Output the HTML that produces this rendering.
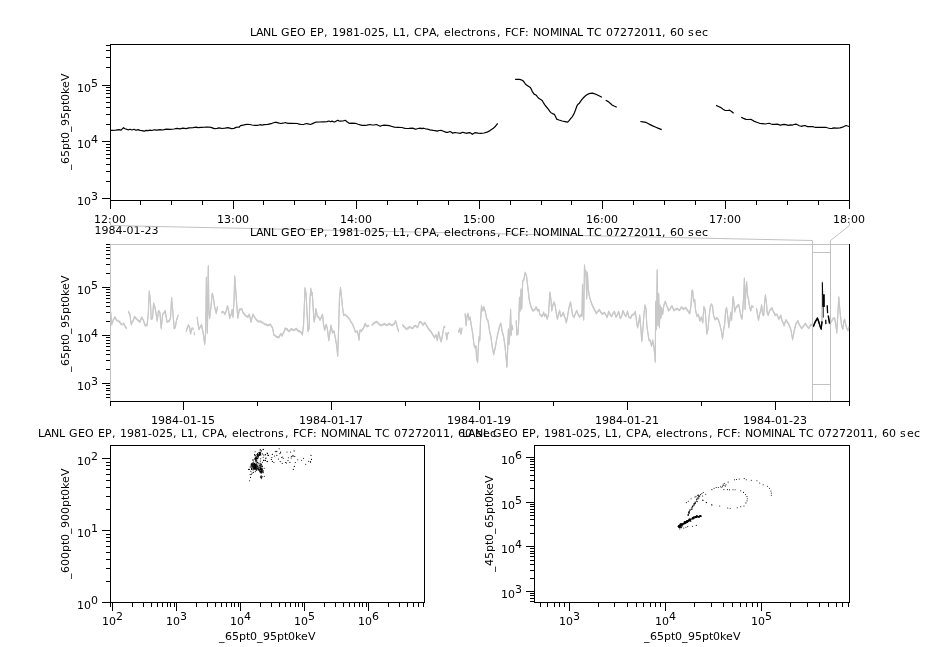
<!DOCTYPE html>
<html><head><meta charset="utf-8"><title>LANL GEO EP</title>
<style>
html,body{margin:0;padding:0;background:#fff;}
svg{display:block;will-change:transform;font-family:'DejaVu Sans', 'Liberation Sans', sans-serif;font-size:11px;fill:#000;}
</style></head><body>
<svg width="926" height="647" viewBox="0 0 926 647" shape-rendering="crispEdges">
<rect width="926" height="647" fill="#fff"/>
<text x="250 256 263 271 277 281 290 297 306 310 317 324 328 332 339 346 353 360 364 371 378 385 389 393 399 406 410 414 422 429 436 440 444 451 454 461 467 471 476 483 490 497 501 505 511 519 525 529 533 541 550 559 562 570 577 583 587 594 602 606 613 620 627 634 641 648 655 662 666 670 677 684 688 695 702" y="36" >LANL GEO EP, 1981-025, L1, CPA, electrons, FCF: NOMINAL TC 07272011, 60 sec</text>
<rect x="102" y="198" width="8" height="1" fill="#000"/>
<text x="77.0" y="204.7">10<tspan dy="-4.6">3</tspan></text>
<rect x="106" y="181" width="4" height="1" fill="#000"/>
<rect x="106" y="171" width="4" height="1" fill="#000"/>
<rect x="106" y="164" width="4" height="1" fill="#000"/>
<rect x="106" y="158" width="4" height="1" fill="#000"/>
<rect x="106" y="154" width="4" height="1" fill="#000"/>
<rect x="106" y="150" width="4" height="1" fill="#000"/>
<rect x="106" y="147" width="4" height="1" fill="#000"/>
<rect x="106" y="144" width="4" height="1" fill="#000"/>
<rect x="102" y="141" width="8" height="1" fill="#000"/>
<text x="77.0" y="147.7">10<tspan dy="-4.6">4</tspan></text>
<rect x="106" y="124" width="4" height="1" fill="#000"/>
<rect x="106" y="114" width="4" height="1" fill="#000"/>
<rect x="106" y="107" width="4" height="1" fill="#000"/>
<rect x="106" y="102" width="4" height="1" fill="#000"/>
<rect x="106" y="97" width="4" height="1" fill="#000"/>
<rect x="106" y="93" width="4" height="1" fill="#000"/>
<rect x="106" y="90" width="4" height="1" fill="#000"/>
<rect x="106" y="87" width="4" height="1" fill="#000"/>
<rect x="102" y="85" width="8" height="1" fill="#000"/>
<text x="77.0" y="91.7">10<tspan dy="-4.6">5</tspan></text>
<rect x="106" y="67" width="4" height="1" fill="#000"/>
<rect x="106" y="57" width="4" height="1" fill="#000"/>
<rect x="106" y="50" width="4" height="1" fill="#000"/>
<rect x="106" y="45" width="4" height="1" fill="#000"/>
<text transform="translate(69,122) rotate(-90)" x="-48 -42 -35 -28 -21 -17 -10 -4 3 10 17 21 28 34 41" y="0">_65pt0_95pt0keV</text>
<rect x="110" y="44" width="740" height="1" fill="#000"/>
<rect x="110" y="200" width="740" height="1" fill="#000"/>
<rect x="110" y="44" width="1" height="157" fill="#000"/>
<rect x="849" y="44" width="1" height="157" fill="#000"/>
<rect x="110" y="201" width="1" height="8" fill="#000"/>
<text x="94 101 108 112 119" y="223" >12:00</text>
<rect x="140" y="201" width="1" height="4" fill="#000"/>
<rect x="171" y="201" width="1" height="4" fill="#000"/>
<rect x="202" y="201" width="1" height="4" fill="#000"/>
<rect x="233" y="201" width="1" height="8" fill="#000"/>
<text x="217 224 231 235 242" y="223" >13:00</text>
<rect x="263" y="201" width="1" height="4" fill="#000"/>
<rect x="294" y="201" width="1" height="4" fill="#000"/>
<rect x="325" y="201" width="1" height="4" fill="#000"/>
<rect x="356" y="201" width="1" height="8" fill="#000"/>
<text x="340 347 354 358 365" y="223" >14:00</text>
<rect x="387" y="201" width="1" height="4" fill="#000"/>
<rect x="417" y="201" width="1" height="4" fill="#000"/>
<rect x="448" y="201" width="1" height="4" fill="#000"/>
<rect x="479" y="201" width="1" height="8" fill="#000"/>
<text x="463 470 477 481 488" y="223" >15:00</text>
<rect x="510" y="201" width="1" height="4" fill="#000"/>
<rect x="541" y="201" width="1" height="4" fill="#000"/>
<rect x="571" y="201" width="1" height="4" fill="#000"/>
<rect x="602" y="201" width="1" height="8" fill="#000"/>
<text x="586 593 600 604 611" y="223" >16:00</text>
<rect x="633" y="201" width="1" height="4" fill="#000"/>
<rect x="664" y="201" width="1" height="4" fill="#000"/>
<rect x="695" y="201" width="1" height="4" fill="#000"/>
<rect x="725" y="201" width="1" height="8" fill="#000"/>
<text x="709 716 723 727 734" y="223" >17:00</text>
<rect x="756" y="201" width="1" height="4" fill="#000"/>
<rect x="787" y="201" width="1" height="4" fill="#000"/>
<rect x="818" y="201" width="1" height="4" fill="#000"/>
<rect x="849" y="201" width="1" height="8" fill="#000"/>
<text x="833 840 847 851 858" y="223" >18:00</text>
<text x="94.6 101.6 108.6 115.6 122.6 126.6 133.6 140.6 144.6 151.6" y="234" >1984-01-23</text>
<g fill="none" stroke="#c2c2c2" stroke-width="1" shape-rendering="geometricPrecision">
<polyline points="110.5,222 110.5,225.5 812.5,240.5 812.5,401"/>
<polyline points="849.5,222 849.5,225.5 830.5,240.5 830.5,401"/>
<line x1="812" y1="252.5" x2="831" y2="252.5"/>
<line x1="812" y1="384.5" x2="831" y2="384.5"/>
</g>
<text x="250 256 263 271 277 281 290 297 306 310 317 324 328 332 339 346 353 360 364 371 378 385 389 393 399 406 410 414 422 429 436 440 444 451 454 461 467 471 476 483 490 497 501 505 511 519 525 529 533 541 550 559 562 570 577 583 587 594 602 606 613 620 627 634 641 648 655 662 666 670 677 684 688 695 702" y="236" >LANL GEO EP, 1981-025, L1, CPA, electrons, FCF: NOMINAL TC 07272011, 60 sec</text>
<rect x="110" y="244" width="740" height="1" fill="#c2c2c2"/>
<rect x="110" y="244" width="1" height="158" fill="#c2c2c2"/>
<rect x="106" y="397" width="4" height="1" fill="#000"/>
<rect x="106" y="394" width="4" height="1" fill="#000"/>
<rect x="106" y="390" width="4" height="1" fill="#000"/>
<rect x="106" y="388" width="4" height="1" fill="#000"/>
<rect x="106" y="385" width="4" height="1" fill="#000"/>
<rect x="102" y="383" width="8" height="1" fill="#000"/>
<text x="77.0" y="389.7">10<tspan dy="-4.6">3</tspan></text>
<rect x="106" y="369" width="4" height="1" fill="#000"/>
<rect x="106" y="360" width="4" height="1" fill="#000"/>
<rect x="106" y="354" width="4" height="1" fill="#000"/>
<rect x="106" y="350" width="4" height="1" fill="#000"/>
<rect x="106" y="346" width="4" height="1" fill="#000"/>
<rect x="106" y="343" width="4" height="1" fill="#000"/>
<rect x="106" y="340" width="4" height="1" fill="#000"/>
<rect x="106" y="337" width="4" height="1" fill="#000"/>
<rect x="102" y="335" width="8" height="1" fill="#000"/>
<text x="77.0" y="341.7">10<tspan dy="-4.6">4</tspan></text>
<rect x="106" y="321" width="4" height="1" fill="#000"/>
<rect x="106" y="312" width="4" height="1" fill="#000"/>
<rect x="106" y="306" width="4" height="1" fill="#000"/>
<rect x="106" y="302" width="4" height="1" fill="#000"/>
<rect x="106" y="298" width="4" height="1" fill="#000"/>
<rect x="106" y="295" width="4" height="1" fill="#000"/>
<rect x="106" y="292" width="4" height="1" fill="#000"/>
<rect x="106" y="289" width="4" height="1" fill="#000"/>
<rect x="102" y="287" width="8" height="1" fill="#000"/>
<text x="77.0" y="293.7">10<tspan dy="-4.6">5</tspan></text>
<rect x="106" y="273" width="4" height="1" fill="#000"/>
<rect x="106" y="264" width="4" height="1" fill="#000"/>
<rect x="106" y="258" width="4" height="1" fill="#000"/>
<rect x="106" y="254" width="4" height="1" fill="#000"/>
<rect x="106" y="250" width="4" height="1" fill="#000"/>
<rect x="106" y="247" width="4" height="1" fill="#000"/>
<rect x="106" y="244" width="4" height="1" fill="#000"/>
<text transform="translate(69,324) rotate(-90)" x="-48 -42 -35 -28 -21 -17 -10 -4 3 10 17 21 28 34 41" y="0">_65pt0_95pt0keV</text>
<rect x="110" y="401" width="740" height="1" fill="#000"/>
<rect x="849" y="244" width="1" height="158" fill="#000"/>
<rect x="110" y="402" width="1" height="4" fill="#000"/>
<rect x="183" y="402" width="1" height="8" fill="#000"/>
<text x="151 158 165 172 179 183 190 197 201 208" y="424" >1984-01-15</text>
<rect x="257" y="402" width="1" height="4" fill="#000"/>
<rect x="331" y="402" width="1" height="8" fill="#000"/>
<text x="299 306 313 320 327 331 338 345 349 356" y="424" >1984-01-17</text>
<rect x="405" y="402" width="1" height="4" fill="#000"/>
<rect x="479" y="402" width="1" height="8" fill="#000"/>
<text x="447 454 461 468 475 479 486 493 497 504" y="424" >1984-01-19</text>
<rect x="553" y="402" width="1" height="4" fill="#000"/>
<rect x="627" y="402" width="1" height="8" fill="#000"/>
<text x="595 602 609 616 623 627 634 641 645 652" y="424" >1984-01-21</text>
<rect x="701" y="402" width="1" height="4" fill="#000"/>
<rect x="775" y="402" width="1" height="8" fill="#000"/>
<text x="743 750 757 764 771 775 782 789 793 800" y="424" >1984-01-23</text>
<rect x="849" y="402" width="1" height="4" fill="#000"/>
<text x="38 44 51 59 65 69 78 85 94 98 105 112 116 120 127 134 141 148 152 159 166 173 177 181 187 194 198 202 210 217 224 228 232 239 242 249 255 259 264 271 278 285 289 293 299 307 313 317 321 329 338 347 350 358 365 371 375 382 390 394 401 408 415 422 429 436 443 450 454 458 465 472 476 483 490" y="437" >LANL GEO EP, 1981-025, L1, CPA, electrons, FCF: NOMINAL TC 07272011, 60 sec</text>
<rect x="110" y="445" width="315" height="1" fill="#000"/>
<rect x="110" y="602" width="315" height="1" fill="#000"/>
<rect x="110" y="445" width="1" height="158" fill="#000"/>
<rect x="424" y="445" width="1" height="158" fill="#000"/>
<rect x="102" y="602" width="8" height="1" fill="#000"/>
<text x="77.0" y="608.7">10<tspan dy="-4.6">0</tspan></text>
<rect x="106" y="581" width="4" height="1" fill="#000"/>
<rect x="106" y="568" width="4" height="1" fill="#000"/>
<rect x="106" y="559" width="4" height="1" fill="#000"/>
<rect x="106" y="552" width="4" height="1" fill="#000"/>
<rect x="106" y="546" width="4" height="1" fill="#000"/>
<rect x="106" y="541" width="4" height="1" fill="#000"/>
<rect x="106" y="537" width="4" height="1" fill="#000"/>
<rect x="106" y="534" width="4" height="1" fill="#000"/>
<rect x="102" y="530" width="8" height="1" fill="#000"/>
<text x="77.0" y="536.7">10<tspan dy="-4.6">1</tspan></text>
<rect x="106" y="509" width="4" height="1" fill="#000"/>
<rect x="106" y="496" width="4" height="1" fill="#000"/>
<rect x="106" y="487" width="4" height="1" fill="#000"/>
<rect x="106" y="480" width="4" height="1" fill="#000"/>
<rect x="106" y="474" width="4" height="1" fill="#000"/>
<rect x="106" y="469" width="4" height="1" fill="#000"/>
<rect x="106" y="465" width="4" height="1" fill="#000"/>
<rect x="106" y="462" width="4" height="1" fill="#000"/>
<rect x="102" y="458" width="8" height="1" fill="#000"/>
<text x="77.0" y="464.7">10<tspan dy="-4.6">2</tspan></text>
<text transform="translate(69,524) rotate(-90)" x="-55 -49 -42 -35 -28 -21 -17 -10 -4 3 10 17 24 28 35 41 48" y="0">_600pt0_900pt0keV</text>
<rect x="110" y="603" width="1" height="4" fill="#000"/>
<rect x="112" y="603" width="1" height="8" fill="#000"/>
<text x="102.0" y="625">10<tspan dy="-4.6">2</tspan></text>
<rect x="132" y="603" width="1" height="4" fill="#000"/>
<rect x="143" y="603" width="1" height="4" fill="#000"/>
<rect x="151" y="603" width="1" height="4" fill="#000"/>
<rect x="157" y="603" width="1" height="4" fill="#000"/>
<rect x="162" y="603" width="1" height="4" fill="#000"/>
<rect x="167" y="603" width="1" height="4" fill="#000"/>
<rect x="170" y="603" width="1" height="4" fill="#000"/>
<rect x="174" y="603" width="1" height="4" fill="#000"/>
<rect x="176" y="603" width="1" height="8" fill="#000"/>
<text x="166.0" y="625">10<tspan dy="-4.6">3</tspan></text>
<rect x="196" y="603" width="1" height="4" fill="#000"/>
<rect x="207" y="603" width="1" height="4" fill="#000"/>
<rect x="215" y="603" width="1" height="4" fill="#000"/>
<rect x="221" y="603" width="1" height="4" fill="#000"/>
<rect x="226" y="603" width="1" height="4" fill="#000"/>
<rect x="231" y="603" width="1" height="4" fill="#000"/>
<rect x="234" y="603" width="1" height="4" fill="#000"/>
<rect x="238" y="603" width="1" height="4" fill="#000"/>
<rect x="240" y="603" width="1" height="8" fill="#000"/>
<text x="230.0" y="625">10<tspan dy="-4.6">4</tspan></text>
<rect x="260" y="603" width="1" height="4" fill="#000"/>
<rect x="271" y="603" width="1" height="4" fill="#000"/>
<rect x="279" y="603" width="1" height="4" fill="#000"/>
<rect x="285" y="603" width="1" height="4" fill="#000"/>
<rect x="290" y="603" width="1" height="4" fill="#000"/>
<rect x="295" y="603" width="1" height="4" fill="#000"/>
<rect x="298" y="603" width="1" height="4" fill="#000"/>
<rect x="302" y="603" width="1" height="4" fill="#000"/>
<rect x="304" y="603" width="1" height="8" fill="#000"/>
<text x="294.0" y="625">10<tspan dy="-4.6">5</tspan></text>
<rect x="324" y="603" width="1" height="4" fill="#000"/>
<rect x="335" y="603" width="1" height="4" fill="#000"/>
<rect x="343" y="603" width="1" height="4" fill="#000"/>
<rect x="349" y="603" width="1" height="4" fill="#000"/>
<rect x="354" y="603" width="1" height="4" fill="#000"/>
<rect x="359" y="603" width="1" height="4" fill="#000"/>
<rect x="362" y="603" width="1" height="4" fill="#000"/>
<rect x="366" y="603" width="1" height="4" fill="#000"/>
<rect x="368" y="603" width="1" height="8" fill="#000"/>
<text x="358.0" y="625">10<tspan dy="-4.6">6</tspan></text>
<rect x="388" y="603" width="1" height="4" fill="#000"/>
<rect x="399" y="603" width="1" height="4" fill="#000"/>
<rect x="407" y="603" width="1" height="4" fill="#000"/>
<rect x="413" y="603" width="1" height="4" fill="#000"/>
<rect x="418" y="603" width="1" height="4" fill="#000"/>
<rect x="423" y="603" width="1" height="4" fill="#000"/>
<text x="219 225 232 239 246 250 257 263 270 277 284 288 295 301 308" y="640" >_65pt0_95pt0keV</text>
<text x="462 468 475 483 489 493 502 509 518 522 529 536 540 544 551 558 565 572 576 583 590 597 601 605 611 618 622 626 634 641 648 652 656 663 666 673 679 683 688 695 702 709 713 717 723 731 737 741 745 753 762 771 774 782 789 795 799 806 814 818 825 832 839 846 853 860 867 874 878 882 889 896 900 907 914" y="437" >LANL GEO EP, 1981-025, L1, CPA, electrons, FCF: NOMINAL TC 07272011, 60 sec</text>
<rect x="534" y="445" width="316" height="1" fill="#000"/>
<rect x="534" y="602" width="316" height="1" fill="#000"/>
<rect x="534" y="445" width="1" height="158" fill="#000"/>
<rect x="849" y="445" width="1" height="158" fill="#000"/>
<rect x="530" y="601" width="4" height="1" fill="#000"/>
<rect x="530" y="598" width="4" height="1" fill="#000"/>
<rect x="530" y="595" width="4" height="1" fill="#000"/>
<rect x="530" y="593" width="4" height="1" fill="#000"/>
<rect x="526" y="591" width="8" height="1" fill="#000"/>
<text x="501.0" y="597.7">10<tspan dy="-4.6">3</tspan></text>
<rect x="530" y="578" width="4" height="1" fill="#000"/>
<rect x="530" y="570" width="4" height="1" fill="#000"/>
<rect x="530" y="564" width="4" height="1" fill="#000"/>
<rect x="530" y="560" width="4" height="1" fill="#000"/>
<rect x="530" y="556" width="4" height="1" fill="#000"/>
<rect x="530" y="553" width="4" height="1" fill="#000"/>
<rect x="530" y="551" width="4" height="1" fill="#000"/>
<rect x="530" y="548" width="4" height="1" fill="#000"/>
<rect x="526" y="546" width="8" height="1" fill="#000"/>
<text x="501.0" y="552.7">10<tspan dy="-4.6">4</tspan></text>
<rect x="530" y="533" width="4" height="1" fill="#000"/>
<rect x="530" y="525" width="4" height="1" fill="#000"/>
<rect x="530" y="519" width="4" height="1" fill="#000"/>
<rect x="530" y="515" width="4" height="1" fill="#000"/>
<rect x="530" y="512" width="4" height="1" fill="#000"/>
<rect x="530" y="509" width="4" height="1" fill="#000"/>
<rect x="530" y="506" width="4" height="1" fill="#000"/>
<rect x="530" y="504" width="4" height="1" fill="#000"/>
<rect x="526" y="502" width="8" height="1" fill="#000"/>
<text x="501.0" y="508.7">10<tspan dy="-4.6">5</tspan></text>
<rect x="530" y="488" width="4" height="1" fill="#000"/>
<rect x="530" y="480" width="4" height="1" fill="#000"/>
<rect x="530" y="475" width="4" height="1" fill="#000"/>
<rect x="530" y="470" width="4" height="1" fill="#000"/>
<rect x="530" y="467" width="4" height="1" fill="#000"/>
<rect x="530" y="464" width="4" height="1" fill="#000"/>
<rect x="530" y="461" width="4" height="1" fill="#000"/>
<rect x="530" y="459" width="4" height="1" fill="#000"/>
<rect x="526" y="457" width="8" height="1" fill="#000"/>
<text x="501.0" y="463.7">10<tspan dy="-4.6">6</tspan></text>
<text transform="translate(493,524) rotate(-90)" x="-48 -42 -35 -28 -21 -17 -10 -4 3 10 17 21 28 34 41" y="0">_45pt0_65pt0keV</text>
<rect x="540" y="603" width="1" height="4" fill="#000"/>
<rect x="547" y="603" width="1" height="4" fill="#000"/>
<rect x="554" y="603" width="1" height="4" fill="#000"/>
<rect x="559" y="603" width="1" height="4" fill="#000"/>
<rect x="564" y="603" width="1" height="4" fill="#000"/>
<rect x="569" y="603" width="1" height="8" fill="#000"/>
<text x="559.0" y="625">10<tspan dy="-4.6">3</tspan></text>
<rect x="598" y="603" width="1" height="4" fill="#000"/>
<rect x="614" y="603" width="1" height="4" fill="#000"/>
<rect x="627" y="603" width="1" height="4" fill="#000"/>
<rect x="636" y="603" width="1" height="4" fill="#000"/>
<rect x="643" y="603" width="1" height="4" fill="#000"/>
<rect x="650" y="603" width="1" height="4" fill="#000"/>
<rect x="655" y="603" width="1" height="4" fill="#000"/>
<rect x="660" y="603" width="1" height="4" fill="#000"/>
<rect x="665" y="603" width="1" height="8" fill="#000"/>
<text x="655.0" y="625">10<tspan dy="-4.6">4</tspan></text>
<rect x="694" y="603" width="1" height="4" fill="#000"/>
<rect x="711" y="603" width="1" height="4" fill="#000"/>
<rect x="723" y="603" width="1" height="4" fill="#000"/>
<rect x="732" y="603" width="1" height="4" fill="#000"/>
<rect x="740" y="603" width="1" height="4" fill="#000"/>
<rect x="746" y="603" width="1" height="4" fill="#000"/>
<rect x="752" y="603" width="1" height="4" fill="#000"/>
<rect x="757" y="603" width="1" height="4" fill="#000"/>
<rect x="761" y="603" width="1" height="8" fill="#000"/>
<text x="751.0" y="625">10<tspan dy="-4.6">5</tspan></text>
<rect x="790" y="603" width="1" height="4" fill="#000"/>
<rect x="807" y="603" width="1" height="4" fill="#000"/>
<rect x="819" y="603" width="1" height="4" fill="#000"/>
<rect x="828" y="603" width="1" height="4" fill="#000"/>
<rect x="836" y="603" width="1" height="4" fill="#000"/>
<rect x="842" y="603" width="1" height="4" fill="#000"/>
<rect x="848" y="603" width="1" height="4" fill="#000"/>
<text x="644 650 657 664 671 675 682 688 695 702 709 713 720 726 733" y="640" >_65pt0_95pt0keV</text>
<g fill="none" stroke="#000" stroke-width="1.2" stroke-linejoin="round" stroke-linecap="butt" shape-rendering="geometricPrecision">
<polyline points="110.5,130.3 116,130.2 119,129.7 121,130.2 122.5,128.6 123.5,127.7 125,128.8 127,129.4 128.7,129.8 130,129.2 132,130 134,129.3 136,130.3 138,129.6 140,130.4 142,130.6 144.3,131.2 146,130.4 148,130.6 150,130.1 152,130.5 154,129.8 157,130.2 160,129.6 163,130 166,129.2 170,129.3 174,129 177,128.4 180,128.8 183,128.2 186,128.6 189,127.9 193,127.6 196,127.2 198,127.6 201,127.3 205,127.2 208,127 211,127.4 214.3,128.6 217,128.3 219,127.8 222,128.5 225,128.2 228,127.7 231.5,128.6 234,128.4 236,127.4 238,127 239,127.3 240.5,125.6 243,125.2 245,124.6 247,124.4 250,124.5 252,125 254.8,125.4 258,125.3 260,124.7 262,125.2 264,124.6 267.8,124.4 270,123.8 272,123.3 275.5,122.2 278,122.8 280.7,123.5 283,123.2 285.3,122.5 287,123.2 288.5,123.4 292,123.4 297.6,123.5 299,124.2 301.5,124.5 304,124.3 306.6,123.5 308,123.8 310.5,124.5 313,123.4 315.7,122.2 319,122 323.5,121.8 327,121.6 329,121 330.5,121.7 332,121.1 333.5,121.8 335.1,121.8 337.7,120.3 339,120.9 340.3,121.2 343,121 345.2,120.3 347,121.8 349.1,123.3 352,123.2 355.5,123.3 358,124.2 362,125.4 365,125.3 367,125.2 369.8,124.5 372,125 374,125 376.3,124.5 378,125.3 380.2,126.3 382,125.5 384,125.2 387,125.4 389.2,125.7 392,126.5 394.4,127.2 398,127.3 402.2,127.5 404,128.2 406,128.5 409,128.4 412.6,128.2 414,128.6 415.8,129.3 418,128.5 420.3,128.2 422,128.6 423.5,128.2 425.5,128.8 428,129.2 430,129.9 433.3,130.4 435,130.6 437.2,131.1 439,130.5 441,130.4 443,131 446.3,132.4 448,132.3 450.1,131.5 451.5,132.3 452.7,133.3 454,132.7 455,132.5 458,133 460.2,133.4 462.8,132.2 464,132.6 466.2,133.3 468,132.8 469.7,132.6 471,133.3 472.3,134.3 474,133.2 474.9,132.7 478,133.2 480.9,133.3 484,133 487,132.2 490,130.6 493,128.6 495.5,126.2 497.7,123.4"/>
<polyline points="515.1,79.4 519.5,79.4 521.5,79.9 523.4,81.1 524.6,82.8 525.5,84.3 528,85.9 530.3,87.4 531.3,89.2 532.2,91.3 534.1,94.1 536.4,95.3 537.5,96.8 538.7,98.3 541.5,99.9 542.5,101 543.7,103.2 544.8,104.9 546.5,107 548.3,109.2 549.6,111.2 550.9,112.7 552.5,113.6 554.4,114.4 555.5,116.6 556.6,119.1 559,120 562.1,121 565,121.6 567.7,122.2 569.3,120.4 570.8,118.4 572.2,116.8 573.4,114.9 574.3,113 575.1,111 576.2,108 577.2,105.3 578.3,104 579.4,103.2 580.7,101.2 582,99.4 583.7,97.5 585.5,95.8 587.2,94.6 588.9,93.7 590.6,93.3 592.4,93.2 594.1,93.6 595.8,94.2 599,95.8 601.9,97.2"/>
<polyline points="605.7,100.3 608.3,101.6 610.2,103.3 612.1,105 614.5,106.3 616.8,107.3"/>
<polyline points="640.3,121.5 643,121.8 645.8,122.3 648,123.5 650.1,124.6 652.7,125.9 655.3,127 658.5,128.4 661.7,129.6"/>
<polyline points="716.1,105.4 718.5,106.5 721,107.6 723,109.2 725.3,110.5 727.5,110.5 729.6,110.2 731.6,111.5 733.6,113.3"/>
<polyline points="741.2,117.2 743.5,118.4 746,119.4 748.5,119.5 751.2,119.4 752.5,120.2 753.8,121.1 756.7,122.2 759.6,123.3 762.5,123.6 765.5,124 767.5,123.5 769.3,123.3 771,124 772.6,124.4 775,124.4 777.1,124.2 778.8,124.6 780.4,125.3 782.3,124.6 784.2,124.4 786.5,124.8 788.8,125.4 790.5,124.9 792.2,125.2 794,124.5 795.9,124.1 797.5,124.8 799.3,125.7 801.1,126.3 803,125.8 805,125.5 806.3,126.1 807.6,126.6 810,126.5 812.8,126.6 814,127 815.3,127.3 820,127.3 825.7,127.3 828,128 830.2,128.5 832,128.3 834.1,127.8 835.8,128.2 837.4,128.2 840,127.8 842.6,127.2 844.4,126.3 846.2,125.5 847.6,126 849,126.3"/>
</g>
<g fill="none" stroke="#c8c8c8" stroke-width="1.1" stroke-linejoin="round" stroke-linecap="round" shape-rendering="geometricPrecision">
<polyline points="110.8,312.0 111.7,324.0 112.5,322.1 113.2,319.5 114.2,317.8 115.1,316.7 116.3,319.4 117.2,320.0 118.2,320.5 119.2,320.9 120.1,322.1 121.0,323.5 121.9,324.1 122.8,323.8 123.8,323.0 125.1,325.9 125.8,327.0 126.6,327.7"/>
<polyline points="110.8,313.0 111.7,325.0 112.5,323.1 113.2,320.5 114.2,318.8 115.1,317.7 116.3,320.4 117.2,321.0 118.2,321.5 119.2,321.9 120.1,323.1 121.0,324.5 121.9,325.1 122.8,324.8 123.8,324.0 125.1,326.9 125.8,328.0 126.6,328.7"/>
<polyline points="128.4,311.1 129.2,312.9 129.9,314.0 131.2,324.0 132.1,321.9 133.0,320.5 133.8,318.6 134.5,316.3 135.3,316.9 136.0,317.9 136.8,318.5 137.7,319.5 138.6,320.3 139.9,321.3 140.9,318.9 141.8,316.8 142.6,318.5 143.3,319.5 144.2,322.2 145.1,325.0 146.1,324.8 147.0,324.9 148.3,313.8 149.2,290.7 150.3,299.0 151.2,318.5 152.5,317.7 153.6,302.7 154.8,306.4 155.9,311.9 157.2,320.3 158.5,310.2 159.2,310.8 159.9,312.0 161.2,327.9 161.9,321.0 162.7,313.8 163.5,313.0 164.3,311.7 165.1,310.3 166.1,316.1 167.0,321.4 167.7,321.3 168.5,320.6 169.2,320.5 170.5,317.7 171.6,297.4 172.9,312.1 174.2,327.9 175.3,326.9 176.6,319.4 177.3,317.1 178.1,314.9"/>
<polyline points="128.4,312.1 129.2,313.9 129.9,315.0 131.2,325.0 132.1,322.9 133.0,321.5 133.8,319.6 134.5,317.3 135.3,317.9 136.0,318.9 136.8,319.5 137.7,320.5 138.6,321.3 139.9,322.3 140.9,319.9 141.8,317.8 142.6,319.5 143.3,320.5 144.2,323.2 145.1,326.0 146.1,325.8 147.0,325.9 148.3,314.8 149.2,291.7 150.3,300.0 151.2,319.5 152.5,318.7 153.6,303.7 154.8,307.4 155.9,312.9 157.2,321.3 158.5,311.2 159.2,311.8 159.9,313.0 161.2,328.9 161.9,322.0 162.7,314.8 163.5,314.0 164.3,312.7 165.1,311.3 166.1,317.1 167.0,322.4 167.7,322.3 168.5,321.6 169.2,321.5 170.5,318.7 171.6,298.4 172.9,313.1 174.2,328.9 175.3,327.9 176.6,320.4 177.3,318.1 178.1,315.9"/>
<polyline points="186.3,330.6 187.3,327.4 188.3,324.6 189.6,326.9 190.6,333.3 191.9,327.8 192.6,327.9 193.3,328.6"/>
<polyline points="186.3,331.6 187.3,328.4 188.3,325.6 189.6,327.9 190.6,334.3 191.9,328.8 192.6,328.9 193.3,329.6"/>
<polyline points="194.3,332.3 194.5,333.9"/>
<polyline points="194.3,333.3 194.5,334.9"/>
<polyline points="197.1,317.0 198.0,323.0 198.9,328.8 199.7,327.6 200.4,326.0 201.7,324.7 202.4,328.9 203.2,332.3 203.9,338.0 204.7,343.7 205.7,329.5 206.4,276.9 206.9,304.5 207.4,332.4 208.3,265.5 208.9,310.2 209.6,317.6 210.8,308.2 212.2,293.0 213.4,297.1 214.5,305.6 215.4,309.4 216.3,312.8 217.4,306.5"/>
<polyline points="197.1,318.0 198.0,324.0 198.9,329.8 199.7,328.6 200.4,327.0 201.7,325.7 202.4,329.9 203.2,333.3 203.9,339.0 204.7,344.7 205.7,330.5 206.4,277.9 206.9,305.5 207.4,333.4 208.3,266.5 208.9,311.2 209.6,318.6 210.8,309.2 212.2,294.0 213.4,298.1 214.5,306.6 215.4,310.4 216.3,313.8 217.4,307.5"/>
<polyline points="221.3,312.0 222.2,311.8 223.2,311.2 224.1,312.5 225.0,313.8 226.3,310.1 227.5,305.5 228.6,310.2 229.7,317.7 230.4,315.6 231.2,314.0 232.1,309.1 233.0,316.8 234.0,301.0 234.7,275.8 235.6,287.9 236.7,303.7 237.8,317.5 238.6,313.4 239.3,309.3 240.1,308.7 240.9,308.9 241.7,308.4 242.6,310.9 243.6,312.9 244.3,313.2 245.0,314.6 245.7,315.3 246.4,315.7 247.2,315.8 247.9,316.6 249.2,313.9 250.1,317.4 251.0,321.4 251.9,317.7 252.9,313.8 253.8,315.4 254.7,316.7 255.4,318.0 256.1,318.9 256.8,319.5 257.5,320.4 258.2,320.7 258.9,320.9 259.6,321.2 260.3,320.8 261.0,321.2 261.8,321.9 262.5,322.0 263.3,322.7 264.0,323.0 264.7,323.8 265.5,323.9 266.2,323.9 267.0,324.8 267.7,324.9 268.4,324.5 269.1,324.5 269.8,324.0 270.5,324.0 271.4,325.8 272.4,327.0 273.1,330.2 273.8,334.4 274.6,334.5 275.3,335.3 276.1,336.2 277.0,336.5 277.9,336.6 278.8,337.1 279.8,335.1 280.7,333.2 282.0,335.3 282.8,333.4 283.5,332.4 284.4,330.3 285.3,327.8 286.2,328.7 287.2,328.6 288.1,330.1 289.1,330.7 289.8,330.0 290.6,329.4 291.3,328.3 292.1,329.0 292.9,329.4 293.7,329.6 294.4,329.2 295.1,329.1 295.8,328.5 296.5,328.2 297.4,329.7 298.3,330.5 299.6,330.6 300.6,331.8 301.5,332.3 302.4,334.2 303.5,324.9 304.3,306.4 305.0,287.5 306.1,293.4 307.1,313.9 308.0,330.7 309.1,327.7 309.8,300.9 310.8,288.0 311.7,294.4 312.3,292.4 313.2,308.3 314.1,321.3 315.0,317.5 315.8,308.3 316.6,311.8 317.3,315.8 318.7,316.7 320.0,319.4 321.3,316.8 322.5,314.0 323.4,323.1 324.7,329.6 325.4,326.7 326.2,324.1 327.3,327.8 328.1,334.1 328.8,339.9 329.9,332.3 331.0,324.9 331.8,328.7 332.5,332.3 333.2,331.1 334.0,330.7 335.4,337.9 336.7,345.5 337.7,355.6 338.6,328.8 339.5,297.3 340.5,287.4 341.4,295.2 342.5,306.5 343.6,314.8 344.4,314.3 345.1,314.0 346.0,315.1 346.9,315.7 347.7,316.6 348.4,317.2 349.2,318.5 350.0,319.4 350.8,321.1 351.6,322.2 352.5,323.7 353.4,325.9 354.4,328.3 355.3,331.4 356.2,331.2 357.2,330.6 358.1,333.4 359.0,339.5 359.9,329.7 360.6,329.8 361.4,330.7 362.4,328.8 363.3,327.8 364.2,325.8 365.1,323.2 366.1,324.9 367.0,325.9 367.9,325.6 368.8,325.1"/>
<polyline points="221.3,313.0 222.2,312.8 223.2,312.2 224.1,313.5 225.0,314.8 226.3,311.1 227.5,306.5 228.6,311.2 229.7,318.7 230.4,316.6 231.2,315.0 232.1,310.1 233.0,317.8 234.0,302.0 234.7,276.8 235.6,288.9 236.7,304.7 237.8,318.5 238.6,314.4 239.3,310.3 240.1,309.7 240.9,309.9 241.7,309.4 242.6,311.9 243.6,313.9 244.3,314.2 245.0,315.6 245.7,316.3 246.4,316.7 247.2,316.8 247.9,317.6 249.2,314.9 250.1,318.4 251.0,322.4 251.9,318.7 252.9,314.8 253.8,316.4 254.7,317.7 255.4,319.0 256.1,319.9 256.8,320.5 257.5,321.4 258.2,321.7 258.9,321.9 259.6,322.2 260.3,321.8 261.0,322.2 261.8,322.9 262.5,323.0 263.3,323.7 264.0,324.0 264.7,324.8 265.5,324.9 266.2,324.9 267.0,325.8 267.7,325.9 268.4,325.5 269.1,325.5 269.8,325.0 270.5,325.0 271.4,326.8 272.4,328.0 273.1,331.2 273.8,335.4 274.6,335.5 275.3,336.3 276.1,337.2 277.0,337.5 277.9,337.6 278.8,338.1 279.8,336.1 280.7,334.2 282.0,336.3 282.8,334.4 283.5,333.4 284.4,331.3 285.3,328.8 286.2,329.7 287.2,329.6 288.1,331.1 289.1,331.7 289.8,331.0 290.6,330.4 291.3,329.3 292.1,330.0 292.9,330.4 293.7,330.6 294.4,330.2 295.1,330.1 295.8,329.5 296.5,329.2 297.4,330.7 298.3,331.5 299.6,331.6 300.6,332.8 301.5,333.3 302.4,335.2 303.5,325.9 304.3,307.4 305.0,288.5 306.1,294.4 307.1,314.9 308.0,331.7 309.1,328.7 309.8,301.9 310.8,289.0 311.7,295.4 312.3,293.4 313.2,309.3 314.1,322.3 315.0,318.5 315.8,309.3 316.6,312.8 317.3,316.8 318.7,317.7 320.0,320.4 321.3,317.8 322.5,315.0 323.4,324.1 324.7,330.6 325.4,327.7 326.2,325.1 327.3,328.8 328.1,335.1 328.8,340.9 329.9,333.3 331.0,325.9 331.8,329.7 332.5,333.3 333.2,332.1 334.0,331.7 335.4,338.9 336.7,346.5 337.7,356.6 338.6,329.8 339.5,298.3 340.5,288.4 341.4,296.2 342.5,307.5 343.6,315.8 344.4,315.3 345.1,315.0 346.0,316.1 346.9,316.7 347.7,317.6 348.4,318.2 349.2,319.5 350.0,320.4 350.8,322.1 351.6,323.2 352.5,324.7 353.4,326.9 354.4,329.3 355.3,332.4 356.2,332.2 357.2,331.6 358.1,334.4 359.0,340.5 359.9,330.7 360.6,330.8 361.4,331.7 362.4,329.8 363.3,328.8 364.2,326.8 365.1,324.2 366.1,325.9 367.0,326.9 367.9,326.6 368.8,326.1"/>
<polyline points="372.0,324.6 372.9,323.5 373.8,322.7 374.5,322.6 375.2,321.7 375.9,321.7 376.6,321.3 377.5,321.8 378.5,323.2 379.4,324.0 380.4,324.5 381.3,324.9 382.0,324.3 382.7,324.2 383.4,324.2 384.1,323.4 385.0,323.6 385.9,324.3 386.8,324.7 387.5,324.3 388.2,323.8 388.9,323.9 389.6,323.0 390.5,324.1 391.3,324.2 392.2,324.9 393.1,323.9 394.1,323.4 394.9,322.2 395.6,320.3 396.4,323.2 397.1,325.9 398.5,330.6"/>
<polyline points="372.0,325.6 372.9,324.5 373.8,323.7 374.5,323.6 375.2,322.7 375.9,322.7 376.6,322.3 377.5,322.8 378.5,324.2 379.4,325.0 380.4,325.5 381.3,325.9 382.0,325.3 382.7,325.2 383.4,325.2 384.1,324.4 385.0,324.6 385.9,325.3 386.8,325.7 387.5,325.3 388.2,324.8 388.9,324.9 389.6,324.0 390.5,325.1 391.3,325.2 392.2,325.9 393.1,324.9 394.1,324.4 394.9,323.2 395.6,321.3 396.4,324.2 397.1,326.9 398.5,331.6"/>
<polyline points="402.6,324.6 403.3,325.1 404.1,326.5 404.8,326.8 405.8,328.0 406.7,328.6 407.4,327.9 408.1,328.0 408.8,326.8 409.5,326.5 410.2,326.8 410.9,327.1 411.6,327.5 412.3,327.7 413.2,327.3 414.1,325.8 415.0,325.3 415.8,325.5 416.7,326.2 417.5,326.9 418.2,325.4 419.0,323.1 419.7,321.2 420.6,321.5 421.5,322.3 422.2,323.0 423.0,324.6 423.9,323.3 424.9,322.2 425.6,323.3 426.4,324.8 427.1,325.9 428.0,327.5 429.0,329.1 429.9,330.2 430.7,330.9 431.5,331.9 432.3,333.4 433.0,334.6 433.8,335.6 434.5,337.2 435.2,335.8 436.0,334.4 437.3,339.9 438.6,331.4 439.7,336.1 440.4,339.0 441.2,341.2 442.5,334.4 443.8,326.8 444.9,326.0"/>
<polyline points="402.6,325.6 403.3,326.1 404.1,327.5 404.8,327.8 405.8,329.0 406.7,329.6 407.4,328.9 408.1,329.0 408.8,327.8 409.5,327.5 410.2,327.8 410.9,328.1 411.6,328.5 412.3,328.7 413.2,328.3 414.1,326.8 415.0,326.3 415.8,326.5 416.7,327.2 417.5,327.9 418.2,326.4 419.0,324.1 419.7,322.2 420.6,322.5 421.5,323.3 422.2,324.0 423.0,325.6 423.9,324.3 424.9,323.2 425.6,324.3 426.4,325.8 427.1,326.9 428.0,328.5 429.0,330.1 429.9,331.2 430.7,331.9 431.5,332.9 432.3,334.4 433.0,335.6 433.8,336.6 434.5,338.2 435.2,336.8 436.0,335.4 437.3,340.9 438.6,332.4 439.7,337.1 440.4,340.0 441.2,342.2 442.5,335.4 443.8,327.8 444.9,327.0"/>
<polyline points="446.0,332.4 446.8,338.9 447.5,333.3 448.6,332.3"/>
<polyline points="446.0,333.4 446.8,339.9 447.5,334.3 448.6,333.3"/>
<polyline points="458.6,331.5 459.8,327.8 460.9,333.3 462.0,327.8"/>
<polyline points="458.6,332.5 459.8,328.8 460.9,334.3 462.0,328.8"/>
<polyline points="465.1,313.5 466.1,325.0 467.0,315.7 467.9,313.0 469.0,319.4 470.1,316.7 471.3,325.0 472.6,332.3 473.9,343.6 475.0,347.3 475.9,345.5 476.6,358.3 477.6,361.6 478.3,347.2 479.1,336.2 479.8,339.9 480.5,321.2 481.5,305.6 482.8,310.3 483.9,306.4 485.0,310.2 485.8,313.6 486.5,317.5 487.2,319.0 488.0,320.3 488.8,325.2 489.5,330.5 490.9,336.0 491.6,341.7 492.4,347.3 493.7,353.9 494.4,350.6 495.2,347.3 496.5,339.8 497.2,336.2 498.0,332.4 498.8,329.0 499.5,326.0 500.8,322.9 502.1,330.7 502.9,333.5 503.6,336.1 505.0,345.3 506.2,358.3 506.9,366.6 507.6,351.1 508.4,328.7 509.1,343.7 509.9,332.4 510.6,309.3 511.2,334.4 511.9,324.9 512.8,328.6"/>
<polyline points="465.1,314.5 466.1,326.0 467.0,316.7 467.9,314.0 469.0,320.4 470.1,317.7 471.3,326.0 472.6,333.3 473.9,344.6 475.0,348.3 475.9,346.5 476.6,359.3 477.6,362.6 478.3,348.2 479.1,337.2 479.8,340.9 480.5,322.2 481.5,306.6 482.8,311.3 483.9,307.4 485.0,311.2 485.8,314.6 486.5,318.5 487.2,320.0 488.0,321.3 488.8,326.2 489.5,331.5 490.9,337.0 491.6,342.7 492.4,348.3 493.7,354.9 494.4,351.6 495.2,348.3 496.5,340.8 497.2,337.2 498.0,333.4 498.8,330.0 499.5,327.0 500.8,323.9 502.1,331.7 502.9,334.5 503.6,337.1 505.0,346.3 506.2,359.3 506.9,367.6 507.6,352.1 508.4,329.7 509.1,344.7 509.9,333.4 510.6,310.3 511.2,335.4 511.9,325.9 512.8,329.6"/>
<polyline points="516.2,320.4 516.9,334.3 518.0,333.3 518.8,319.4 519.5,297.1 520.3,310.1 521.0,288.8 521.7,308.2 522.7,280.6 524.0,278.7 525.1,272.1 525.9,274.0 526.6,275.8 527.7,285.9 528.5,292.4 529.2,298.9 530.1,303.1 531.0,306.3 532.0,308.6 532.9,310.1 533.8,309.9 534.7,309.2 535.5,307.7 536.2,306.5 537.5,310.1 538.8,309.1 539.5,312.4 540.3,314.8 541.2,314.9 542.1,315.8 542.9,314.3 543.6,311.9 544.7,315.7 545.9,313.8 547.2,318.4 548.5,313.9 549.2,302.6 549.9,291.7 550.9,298.9 551.8,310.1 552.9,304.7 554.0,301.8 555.1,304.6 556.2,312.0 557.4,318.5 558.5,313.9 559.6,310.1 560.7,315.8 562.0,314.9 563.3,312.1 564.4,315.7 565.5,318.5 566.3,322.2 567.4,316.8 568.5,310.2 569.6,304.5 570.5,301.7 571.5,307.4 572.6,314.8 573.4,316.0 574.1,316.7 575.5,312.8 576.8,310.3 578.1,313.9 578.9,315.3 579.6,316.6 580.4,315.2 581.1,313.9 582.0,315.8 582.5,284.1 583.1,302.7 583.7,319.3 584.5,264.8 585.2,274.8 585.9,270.2 586.7,298.1 587.4,272.1 588.2,287.8 589.3,295.3 590.0,297.8 590.8,300.8 591.7,303.2 592.6,305.6 593.5,307.3 594.5,309.3 595.4,310.8 596.3,313.0 597.0,311.9 597.8,311.0 598.5,310.4 599.3,309.3 600.0,310.2 600.8,311.9 601.7,313.0 602.6,313.5 603.5,312.7 604.5,312.3 605.2,313.2 606.0,314.8 607.1,316.8 607.9,314.3 608.6,311.1 609.4,312.1 610.1,313.9 611.5,315.8 612.2,314.6 613.0,312.9 613.8,311.8 614.5,311.1 615.2,313.9 616.0,316.7 616.8,315.1 617.5,314.0 618.6,311.2 619.4,314.0 620.1,317.5 620.9,317.0 621.6,315.6 623.0,310.3 623.8,312.1 624.5,314.0 625.2,315.0 626.0,315.6 626.8,313.2 627.5,311.0 628.2,314.1 629.0,316.8 629.8,316.8 630.5,317.7 631.9,314.8 632.8,314.1 633.8,313.9 634.5,312.9 635.3,311.1 636.4,319.4 637.5,327.0 638.6,323.2 639.7,314.9 640.9,328.7 641.8,340.8 642.7,330.7 643.8,315.8 644.9,304.6 646.0,308.3 646.8,325.0 647.9,332.5 649.0,339.8 649.8,339.9 650.5,340.9 651.6,345.5 652.7,339.9 653.8,345.5 654.6,352.9 655.3,361.2 655.7,301.0 656.4,328.7 657.2,269.2 657.9,325.0 658.7,293.4 659.4,327.0 660.1,304.7 660.9,317.6 661.6,307.4 662.6,313.8 663.9,304.6 665.3,301.0 666.0,303.1 666.8,305.4 667.8,307.8 668.7,310.2 669.5,309.4 670.2,308.2 671.1,306.5 672.0,305.4 673.0,307.8 673.9,309.9 674.8,309.4 675.7,308.8 676.5,308.4 677.2,308.2 678.0,308.8 678.7,309.2 679.5,309.7 680.4,308.5 681.3,306.8 682.0,307.2 682.8,307.9 683.5,308.8 684.3,307.8 685.0,307.7 685.8,307.3 686.7,308.5 687.6,310.2 688.3,310.8 689.1,312.4 689.8,312.9 691.0,304.7 691.9,290.6 692.6,289.8 693.6,300.9 694.7,299.1 695.6,310.1 696.9,315.7 697.6,315.1 698.4,314.0 699.1,316.9 699.9,320.4 701.3,316.8 702.0,319.4 702.8,322.2 703.9,306.4 705.1,309.3 706.0,321.3 706.9,333.3 708.0,328.7 709.1,315.8 710.3,306.4 711.4,303.7 712.5,305.5 713.6,315.6 714.4,317.1 715.1,319.0 716.0,318.4 716.9,317.5 717.6,318.1 718.4,319.5 719.1,321.6 719.9,324.2 720.6,327.4 721.4,330.6 722.5,338.1 723.6,329.7 724.7,323.1 725.6,310.1 726.6,307.4 727.7,315.8 728.8,326.9 729.9,319.5 730.7,312.0 731.6,319.4 732.3,308.2 733.1,296.2 734.0,302.7 734.7,311.1 735.9,307.4 737.3,305.6 738.0,304.8 738.8,304.5 739.9,310.1 741.0,315.8 742.0,318.5 742.9,308.2 743.7,295.4 744.4,277.8 745.1,308.4 745.9,289.8 746.6,281.5 747.5,294.3 748.5,298.9 749.6,306.5 750.7,310.3 751.8,305.4 752.5,306.3 753.3,306.3"/>
<polyline points="516.2,321.4 516.9,335.3 518.0,334.3 518.8,320.4 519.5,298.1 520.3,311.1 521.0,289.8 521.7,309.2 522.7,281.6 524.0,279.7 525.1,273.1 525.9,275.0 526.6,276.8 527.7,286.9 528.5,293.4 529.2,299.9 530.1,304.1 531.0,307.3 532.0,309.6 532.9,311.1 533.8,310.9 534.7,310.2 535.5,308.7 536.2,307.5 537.5,311.1 538.8,310.1 539.5,313.4 540.3,315.8 541.2,315.9 542.1,316.8 542.9,315.3 543.6,312.9 544.7,316.7 545.9,314.8 547.2,319.4 548.5,314.9 549.2,303.6 549.9,292.7 550.9,299.9 551.8,311.1 552.9,305.7 554.0,302.8 555.1,305.6 556.2,313.0 557.4,319.5 558.5,314.9 559.6,311.1 560.7,316.8 562.0,315.9 563.3,313.1 564.4,316.7 565.5,319.5 566.3,323.2 567.4,317.8 568.5,311.2 569.6,305.5 570.5,302.7 571.5,308.4 572.6,315.8 573.4,317.0 574.1,317.7 575.5,313.8 576.8,311.3 578.1,314.9 578.9,316.3 579.6,317.6 580.4,316.2 581.1,314.9 582.0,316.8 582.5,285.1 583.1,303.7 583.7,320.3 584.5,265.8 585.2,275.8 585.9,271.2 586.7,299.1 587.4,273.1 588.2,288.8 589.3,296.3 590.0,298.8 590.8,301.8 591.7,304.2 592.6,306.6 593.5,308.3 594.5,310.3 595.4,311.8 596.3,314.0 597.0,312.9 597.8,312.0 598.5,311.4 599.3,310.3 600.0,311.2 600.8,312.9 601.7,314.0 602.6,314.5 603.5,313.7 604.5,313.3 605.2,314.2 606.0,315.8 607.1,317.8 607.9,315.3 608.6,312.1 609.4,313.1 610.1,314.9 611.5,316.8 612.2,315.6 613.0,313.9 613.8,312.8 614.5,312.1 615.2,314.9 616.0,317.7 616.8,316.1 617.5,315.0 618.6,312.2 619.4,315.0 620.1,318.5 620.9,318.0 621.6,316.6 623.0,311.3 623.8,313.1 624.5,315.0 625.2,316.0 626.0,316.6 626.8,314.2 627.5,312.0 628.2,315.1 629.0,317.8 629.8,317.8 630.5,318.7 631.9,315.8 632.8,315.1 633.8,314.9 634.5,313.9 635.3,312.1 636.4,320.4 637.5,328.0 638.6,324.2 639.7,315.9 640.9,329.7 641.8,341.8 642.7,331.7 643.8,316.8 644.9,305.6 646.0,309.3 646.8,326.0 647.9,333.5 649.0,340.8 649.8,340.9 650.5,341.9 651.6,346.5 652.7,340.9 653.8,346.5 654.6,353.9 655.3,362.2 655.7,302.0 656.4,329.7 657.2,270.2 657.9,326.0 658.7,294.4 659.4,328.0 660.1,305.7 660.9,318.6 661.6,308.4 662.6,314.8 663.9,305.6 665.3,302.0 666.0,304.1 666.8,306.4 667.8,308.8 668.7,311.2 669.5,310.4 670.2,309.2 671.1,307.5 672.0,306.4 673.0,308.8 673.9,310.9 674.8,310.4 675.7,309.8 676.5,309.4 677.2,309.2 678.0,309.8 678.7,310.2 679.5,310.7 680.4,309.5 681.3,307.8 682.0,308.2 682.8,308.9 683.5,309.8 684.3,308.8 685.0,308.7 685.8,308.3 686.7,309.5 687.6,311.2 688.3,311.8 689.1,313.4 689.8,313.9 691.0,305.7 691.9,291.6 692.6,290.8 693.6,301.9 694.7,300.1 695.6,311.1 696.9,316.7 697.6,316.1 698.4,315.0 699.1,317.9 699.9,321.4 701.3,317.8 702.0,320.4 702.8,323.2 703.9,307.4 705.1,310.3 706.0,322.3 706.9,334.3 708.0,329.7 709.1,316.8 710.3,307.4 711.4,304.7 712.5,306.5 713.6,316.6 714.4,318.1 715.1,320.0 716.0,319.4 716.9,318.5 717.6,319.1 718.4,320.5 719.1,322.6 719.9,325.2 720.6,328.4 721.4,331.6 722.5,339.1 723.6,330.7 724.7,324.1 725.6,311.1 726.6,308.4 727.7,316.8 728.8,327.9 729.9,320.5 730.7,313.0 731.6,320.4 732.3,309.2 733.1,297.2 734.0,303.7 734.7,312.1 735.9,308.4 737.3,306.6 738.0,305.8 738.8,305.5 739.9,311.1 741.0,316.8 742.0,319.5 742.9,309.2 743.7,296.4 744.4,278.8 745.1,309.4 745.9,290.8 746.6,282.5 747.5,295.3 748.5,299.9 749.6,307.5 750.7,311.3 751.8,306.4 752.5,307.3 753.3,307.3"/>
<polyline points="756.6,308.3 757.6,314.7 758.5,319.5 759.6,313.9 760.7,310.3 761.6,304.5 762.6,313.8 763.7,314.7 764.6,302.6 765.4,294.5 766.3,300.8 767.2,312.0 768.3,314.7 769.6,310.1 770.7,309.0 771.9,307.5 773.3,311.1 774.2,312.5 775.2,314.7 776.2,314.0 777.1,314.0 778.0,316.5 778.9,318.6 779.8,316.9 780.8,314.9 781.5,318.0 782.2,320.5 783.2,322.5 784.1,325.1 785.0,322.2 786.0,319.5 786.9,320.9 787.8,322.2 788.8,323.9 789.7,325.9 790.5,328.1 791.2,330.5 792.6,339.0 793.4,335.0 794.1,330.7 795.0,327.0 796.0,323.1 796.9,322.0 797.8,320.3 798.8,322.9 799.7,325.0 800.6,326.1 801.5,327.7 802.5,326.9 803.4,325.8 804.3,324.5 805.3,323.1 806.2,324.4 807.1,325.8 808.0,326.8 809.0,327.7 809.9,325.7 810.8,324.0 811.5,324.4 812.3,324.9 813.4,325.8 814.3,324.0 815.2,321.4 815.9,320.4 816.7,319.3 817.4,317.6 818.8,321.3 820.1,325.9 821.2,328.6 822.0,320.4 822.2,281.8 822.8,294.4 823.6,305.6 824.4,299.6"/>
<polyline points="756.6,309.3 757.6,315.7 758.5,320.5 759.6,314.9 760.7,311.3 761.6,305.5 762.6,314.8 763.7,315.7 764.6,303.6 765.4,295.5 766.3,301.8 767.2,313.0 768.3,315.7 769.6,311.1 770.7,310.0 771.9,308.5 773.3,312.1 774.2,313.5 775.2,315.7 776.2,315.0 777.1,315.0 778.0,317.5 778.9,319.6 779.8,317.9 780.8,315.9 781.5,319.0 782.2,321.5 783.2,323.5 784.1,326.1 785.0,323.2 786.0,320.5 786.9,321.9 787.8,323.2 788.8,324.9 789.7,326.9 790.5,329.1 791.2,331.5 792.6,340.0 793.4,336.0 794.1,331.7 795.0,328.0 796.0,324.1 796.9,323.0 797.8,321.3 798.8,323.9 799.7,326.0 800.6,327.1 801.5,328.7 802.5,327.9 803.4,326.8 804.3,325.5 805.3,324.1 806.2,325.4 807.1,326.8 808.0,327.8 809.0,328.7 809.9,326.7 810.8,325.0 811.5,325.4 812.3,325.9 813.4,326.8 814.3,325.0 815.2,322.4 815.9,321.4 816.7,320.3 817.4,318.6 818.8,322.3 820.1,326.9 821.2,329.6 822.0,321.4 822.2,282.8 822.8,295.4 823.6,306.6 824.4,300.6"/>
<polyline points="828.6,317.5 829.6,323.0 830.9,321.5 831.6,320.5 832.3,319.7 833.0,318.1 833.9,317.7 834.7,317.8 835.8,323.6 836.8,332.2 837.9,312.8 838.8,296.6 839.5,305.3 840.4,314.9 841.7,325.7 842.8,328.6 843.9,320.4 844.7,319.2 845.8,324.8 846.9,327.9 848.0,330.0 848.7,326.9"/>
<polyline points="828.6,318.5 829.6,324.0 830.9,322.5 831.6,321.5 832.3,320.7 833.0,319.1 833.9,318.7 834.7,318.8 835.8,324.6 836.8,333.2 837.9,313.8 838.8,297.6 839.5,306.3 840.4,315.9 841.7,326.7 842.8,329.6 843.9,321.4 844.7,320.2 845.8,325.8 846.9,328.9 848.0,331.0 848.7,327.9"/>
</g>
<g fill="none" stroke="#000" stroke-linejoin="round" stroke-linecap="butt" shape-rendering="geometricPrecision">
<polyline stroke-width="1.1" points="813.4,325.9 815.2,321.5 817.4,317.8 818.8,321.5 820.1,325.9 821.2,328.6 822.0,321.1"/>
<polyline stroke-width="1.1" points="813.4,326.7 815.2,322.3 817.4,318.6 818.8,322.3 820.1,326.7 821.2,329.4 822.0,321.9"/>
<polyline stroke-width="1.0" points="822.4,282.4 822.6,295.0"/>
<polyline stroke-width="2.6" points="823.5,294.3 823.5,307.0"/>
<polyline stroke-width="0.8" points="823.3,307.0 823.3,317.6"/>
<polyline stroke-width="1.3" points="825.7,319.8 825.9,324.1"/>
<polyline stroke-width="1.3" points="827.2,305.2 827.6,313.3"/>
<polyline stroke-width="1.5" points="828.2,315.5 829.6,323.6"/>
</g>
<g fill="#000" shape-rendering="geometricPrecision">
<circle cx="263.2" cy="449.4" r="0.56"/>
<circle cx="260.5" cy="449.7" r="0.56"/>
<circle cx="279.2" cy="448.7" r="0.56"/>
<circle cx="276.8" cy="451.4" r="0.56"/>
<circle cx="275.3" cy="451.2" r="0.56"/>
<circle cx="280.7" cy="452.1" r="0.56"/>
<circle cx="279.9" cy="453.6" r="0.56"/>
<circle cx="287.0" cy="452.0" r="0.56"/>
<circle cx="290.6" cy="452.1" r="0.56"/>
<circle cx="294.1" cy="450.9" r="0.56"/>
<circle cx="272.4" cy="454.4" r="0.56"/>
<circle cx="274.4" cy="456.0" r="0.56"/>
<circle cx="276.8" cy="455.4" r="0.56"/>
<circle cx="271.9" cy="457.5" r="0.56"/>
<circle cx="271.4" cy="459.4" r="0.56"/>
<circle cx="272.4" cy="461.4" r="0.56"/>
<circle cx="273.9" cy="462.5" r="0.56"/>
<circle cx="278.4" cy="459.1" r="0.56"/>
<circle cx="282.3" cy="457.0" r="0.56"/>
<circle cx="283.3" cy="458.3" r="0.56"/>
<circle cx="281.6" cy="457.5" r="0.56"/>
<circle cx="288.4" cy="457.8" r="0.56"/>
<circle cx="291.4" cy="456.5" r="0.56"/>
<circle cx="293.0" cy="455.5" r="0.56"/>
<circle cx="294.8" cy="456.5" r="0.56"/>
<circle cx="291.2" cy="458.0" r="0.56"/>
<circle cx="288.0" cy="460.6" r="0.56"/>
<circle cx="286.5" cy="463.0" r="0.56"/>
<circle cx="285.5" cy="462.5" r="0.56"/>
<circle cx="282.3" cy="463.5" r="0.56"/>
<circle cx="280.2" cy="461.6" r="0.56"/>
<circle cx="289.9" cy="462.4" r="0.56"/>
<circle cx="295.3" cy="462.5" r="0.56"/>
<circle cx="297.7" cy="459.7" r="0.56"/>
<circle cx="301.6" cy="460.2" r="0.56"/>
<circle cx="303.5" cy="458.3" r="0.56"/>
<circle cx="305.7" cy="464.3" r="0.56"/>
<circle cx="308.6" cy="461.2" r="0.56"/>
<circle cx="310.6" cy="462.2" r="0.56"/>
<circle cx="311.5" cy="459.4" r="0.56"/>
<circle cx="311.0" cy="455.4" r="0.56"/>
<circle cx="294.3" cy="466.4" r="0.56"/>
<circle cx="293.3" cy="469.4" r="0.56"/>
<circle cx="267.1" cy="461.4" r="0.56"/>
<circle cx="267.6" cy="453.6" r="0.56"/>
<circle cx="268.0" cy="455.4" r="0.56"/>
<circle cx="266.1" cy="458.0" r="0.56"/>
<circle cx="263.7" cy="460.2" r="0.56"/>
<circle cx="265.1" cy="460.4" r="0.56"/>
<circle cx="265.6" cy="454.6" r="0.56"/>
<circle cx="267.1" cy="453.1" r="0.56"/>
<circle cx="276.2" cy="451.7" r="0.56"/>
<circle cx="280.5" cy="452.8" r="0.56"/>
<circle cx="292.3" cy="456.0" r="0.56"/>
<circle cx="293.9" cy="456.3" r="0.56"/>
<circle cx="310.3" cy="461.6" r="0.56"/>
<circle cx="255.1" cy="451.7" r="0.56"/>
<circle cx="254.5" cy="454.5" r="0.56"/>
<circle cx="253.0" cy="459.5" r="0.56"/>
<circle cx="260.1" cy="449.9" r="0.56"/>
<circle cx="263.2" cy="449.6" r="0.56"/>
<circle cx="262.6" cy="453.9" r="0.56"/>
<circle cx="263.8" cy="455.1" r="0.56"/>
<circle cx="265.3" cy="454.8" r="0.56"/>
<circle cx="267.5" cy="453.6" r="0.56"/>
<circle cx="268.4" cy="455.4" r="0.56"/>
<circle cx="263.2" cy="457.3" r="0.56"/>
<circle cx="265.6" cy="458.2" r="0.56"/>
<circle cx="260.7" cy="458.8" r="0.56"/>
<circle cx="263.5" cy="460.4" r="0.56"/>
<circle cx="265.3" cy="460.4" r="0.56"/>
<circle cx="267.5" cy="461.6" r="0.56"/>
<circle cx="256.7" cy="460.4" r="0.56"/>
<circle cx="256.7" cy="461.6" r="0.56"/>
<circle cx="256.8" cy="462.9" r="0.56"/>
<circle cx="257.9" cy="462.6" r="0.56"/>
<circle cx="250.2" cy="466.9" r="0.56"/>
<circle cx="249.3" cy="469.4" r="0.56"/>
<circle cx="250.8" cy="471.2" r="0.56"/>
<circle cx="252.0" cy="473.1" r="0.56"/>
<circle cx="250.2" cy="474.6" r="0.56"/>
<circle cx="251.4" cy="474.3" r="0.56"/>
<circle cx="253.3" cy="472.4" r="0.56"/>
<circle cx="250.5" cy="477.4" r="0.56"/>
<circle cx="249.6" cy="480.8" r="0.56"/>
<circle cx="261.6" cy="477.4" r="0.56"/>
<circle cx="261.3" cy="478.6" r="0.56"/>
<circle cx="262.6" cy="476.8" r="0.56"/>
<circle cx="264.4" cy="476.2" r="0.56"/>
<circle cx="251.4" cy="463.8" r="0.56"/>
<circle cx="248.6" cy="469.4" r="0.56"/>
<circle cx="258.0" cy="457.9" r="0.56"/>
<circle cx="255.0" cy="458.3" r="0.56"/>
<circle cx="255.6" cy="458.6" r="0.56"/>
<circle cx="258.0" cy="456.1" r="0.56"/>
<circle cx="257.8" cy="455.6" r="0.56"/>
<circle cx="255.0" cy="455.7" r="0.56"/>
<circle cx="256.1" cy="456.6" r="0.56"/>
<circle cx="256.3" cy="458.0" r="0.56"/>
<circle cx="256.9" cy="458.6" r="0.56"/>
<circle cx="260.0" cy="454.5" r="0.56"/>
<circle cx="257.7" cy="455.4" r="0.56"/>
<circle cx="256.5" cy="458.8" r="0.56"/>
<circle cx="258.0" cy="454.6" r="0.56"/>
<circle cx="257.5" cy="455.1" r="0.56"/>
<circle cx="259.1" cy="452.7" r="0.56"/>
<circle cx="256.3" cy="454.7" r="0.56"/>
<circle cx="258.4" cy="456.6" r="0.56"/>
<circle cx="254.7" cy="459.0" r="0.56"/>
<circle cx="256.0" cy="458.0" r="0.56"/>
<circle cx="258.9" cy="453.0" r="0.56"/>
<circle cx="259.1" cy="454.3" r="0.56"/>
<circle cx="257.4" cy="454.3" r="0.56"/>
<circle cx="260.6" cy="452.7" r="0.56"/>
<circle cx="260.2" cy="454.9" r="0.56"/>
<circle cx="260.5" cy="454.4" r="0.56"/>
<circle cx="255.8" cy="458.0" r="0.56"/>
<circle cx="255.1" cy="459.0" r="0.56"/>
<circle cx="257.7" cy="458.8" r="0.56"/>
<circle cx="256.2" cy="459.1" r="0.56"/>
<circle cx="260.7" cy="453.4" r="0.56"/>
<circle cx="259.6" cy="453.9" r="0.56"/>
<circle cx="259.5" cy="454.0" r="0.56"/>
<circle cx="259.2" cy="454.8" r="0.56"/>
<circle cx="256.6" cy="458.6" r="0.56"/>
<circle cx="255.4" cy="457.5" r="0.56"/>
<circle cx="257.9" cy="457.2" r="0.56"/>
<circle cx="255.1" cy="455.4" r="0.56"/>
<circle cx="257.5" cy="454.0" r="0.56"/>
<circle cx="260.8" cy="455.0" r="0.56"/>
<circle cx="260.5" cy="452.3" r="0.56"/>
<circle cx="257.1" cy="456.5" r="0.56"/>
<circle cx="258.9" cy="454.7" r="0.56"/>
<circle cx="257.1" cy="458.3" r="0.56"/>
<circle cx="256.4" cy="458.6" r="0.56"/>
<circle cx="255.9" cy="458.5" r="0.56"/>
<circle cx="259.3" cy="452.5" r="0.56"/>
<circle cx="256.2" cy="458.0" r="0.56"/>
<circle cx="258.0" cy="455.6" r="0.56"/>
<circle cx="257.4" cy="455.8" r="0.56"/>
<circle cx="255.6" cy="458.9" r="0.56"/>
<circle cx="259.6" cy="453.4" r="0.56"/>
<circle cx="259.5" cy="452.2" r="0.56"/>
<circle cx="259.4" cy="455.4" r="0.56"/>
<circle cx="261.2" cy="451.0" r="0.56"/>
<circle cx="256.4" cy="457.6" r="0.56"/>
<circle cx="257.5" cy="453.2" r="0.56"/>
<circle cx="257.5" cy="458.5" r="0.56"/>
<circle cx="261.3" cy="450.7" r="0.56"/>
<circle cx="259.4" cy="452.6" r="0.56"/>
<circle cx="257.9" cy="455.6" r="0.56"/>
<circle cx="255.6" cy="459.6" r="0.56"/>
<circle cx="259.9" cy="453.9" r="0.56"/>
<circle cx="258.7" cy="463.8" r="0.56"/>
<circle cx="256.0" cy="465.7" r="0.56"/>
<circle cx="254.8" cy="467.9" r="0.56"/>
<circle cx="254.9" cy="467.7" r="0.56"/>
<circle cx="252.3" cy="463.0" r="0.56"/>
<circle cx="255.5" cy="464.2" r="0.56"/>
<circle cx="253.1" cy="463.1" r="0.56"/>
<circle cx="256.5" cy="467.9" r="0.56"/>
<circle cx="256.8" cy="464.2" r="0.56"/>
<circle cx="254.6" cy="463.8" r="0.56"/>
<circle cx="255.7" cy="469.8" r="0.56"/>
<circle cx="253.3" cy="469.7" r="0.56"/>
<circle cx="256.1" cy="465.9" r="0.56"/>
<circle cx="251.6" cy="469.4" r="0.56"/>
<circle cx="254.5" cy="465.0" r="0.56"/>
<circle cx="255.2" cy="467.2" r="0.56"/>
<circle cx="256.8" cy="464.1" r="0.56"/>
<circle cx="256.3" cy="469.6" r="0.56"/>
<circle cx="256.8" cy="465.9" r="0.56"/>
<circle cx="253.5" cy="468.5" r="0.56"/>
<circle cx="254.8" cy="466.6" r="0.56"/>
<circle cx="256.7" cy="465.7" r="0.56"/>
<circle cx="251.2" cy="465.4" r="0.56"/>
<circle cx="251.8" cy="468.1" r="0.56"/>
<circle cx="255.1" cy="465.0" r="0.56"/>
<circle cx="254.6" cy="468.1" r="0.56"/>
<circle cx="254.7" cy="469.2" r="0.56"/>
<circle cx="254.5" cy="468.6" r="0.56"/>
<circle cx="256.8" cy="469.8" r="0.56"/>
<circle cx="253.6" cy="468.2" r="0.56"/>
<circle cx="251.8" cy="463.9" r="0.56"/>
<circle cx="251.7" cy="468.7" r="0.56"/>
<circle cx="252.8" cy="466.3" r="0.56"/>
<circle cx="254.3" cy="466.2" r="0.56"/>
<circle cx="253.7" cy="466.8" r="0.56"/>
<circle cx="257.3" cy="466.4" r="0.56"/>
<circle cx="255.4" cy="468.5" r="0.56"/>
<circle cx="254.3" cy="463.5" r="0.56"/>
<circle cx="253.8" cy="468.7" r="0.56"/>
<circle cx="252.1" cy="465.0" r="0.56"/>
<circle cx="256.1" cy="468.0" r="0.56"/>
<circle cx="254.6" cy="468.1" r="0.56"/>
<circle cx="254.8" cy="463.7" r="0.56"/>
<circle cx="252.3" cy="464.9" r="0.56"/>
<circle cx="256.0" cy="465.1" r="0.56"/>
<circle cx="253.2" cy="464.6" r="0.56"/>
<circle cx="252.3" cy="466.0" r="0.56"/>
<circle cx="252.8" cy="467.1" r="0.56"/>
<circle cx="251.1" cy="467.0" r="0.56"/>
<circle cx="253.6" cy="462.0" r="0.56"/>
<circle cx="255.7" cy="465.7" r="0.56"/>
<circle cx="251.3" cy="464.4" r="0.56"/>
<circle cx="255.0" cy="465.3" r="0.56"/>
<circle cx="255.8" cy="467.9" r="0.56"/>
<circle cx="255.6" cy="467.0" r="0.56"/>
<circle cx="256.6" cy="467.8" r="0.56"/>
<circle cx="255.3" cy="461.7" r="0.56"/>
<circle cx="255.9" cy="469.2" r="0.56"/>
<circle cx="254.2" cy="465.3" r="0.56"/>
<circle cx="257.5" cy="462.4" r="0.56"/>
<circle cx="255.3" cy="471.6" r="0.56"/>
<circle cx="253.2" cy="467.8" r="0.56"/>
<circle cx="257.4" cy="466.0" r="0.56"/>
<circle cx="255.4" cy="468.3" r="0.56"/>
<circle cx="253.2" cy="466.1" r="0.56"/>
<circle cx="255.0" cy="468.1" r="0.56"/>
<circle cx="254.5" cy="465.9" r="0.56"/>
<circle cx="253.1" cy="465.5" r="0.56"/>
<circle cx="255.9" cy="466.5" r="0.56"/>
<circle cx="253.3" cy="464.4" r="0.56"/>
<circle cx="258.6" cy="468.8" r="0.56"/>
<circle cx="255.6" cy="460.6" r="0.56"/>
<circle cx="255.5" cy="467.4" r="0.56"/>
<circle cx="257.1" cy="467.2" r="0.56"/>
<circle cx="254.5" cy="467.4" r="0.56"/>
<circle cx="251.7" cy="468.6" r="0.56"/>
<circle cx="255.1" cy="464.8" r="0.56"/>
<circle cx="256.6" cy="470.3" r="0.56"/>
<circle cx="252.5" cy="464.8" r="0.56"/>
<circle cx="255.0" cy="466.7" r="0.56"/>
<circle cx="254.0" cy="464.2" r="0.56"/>
<circle cx="257.8" cy="468.6" r="0.56"/>
<circle cx="252.8" cy="463.3" r="0.56"/>
<circle cx="257.2" cy="468.5" r="0.56"/>
<circle cx="257.3" cy="468.1" r="0.56"/>
<circle cx="253.3" cy="466.9" r="0.56"/>
<circle cx="251.4" cy="464.7" r="0.56"/>
<circle cx="254.5" cy="467.5" r="0.56"/>
<circle cx="253.5" cy="466.0" r="0.56"/>
<circle cx="255.3" cy="467.1" r="0.56"/>
<circle cx="255.6" cy="466.8" r="0.56"/>
<circle cx="254.1" cy="468.0" r="0.56"/>
<circle cx="254.7" cy="464.5" r="0.56"/>
<circle cx="253.7" cy="466.3" r="0.56"/>
<circle cx="254.4" cy="466.6" r="0.56"/>
<circle cx="254.6" cy="466.7" r="0.56"/>
<circle cx="254.4" cy="463.5" r="0.56"/>
<circle cx="255.2" cy="468.6" r="0.56"/>
<circle cx="255.3" cy="465.9" r="0.56"/>
<circle cx="255.3" cy="464.2" r="0.56"/>
<circle cx="251.8" cy="466.4" r="0.56"/>
<circle cx="253.2" cy="467.9" r="0.56"/>
<circle cx="253.0" cy="460.5" r="0.56"/>
<circle cx="253.0" cy="469.8" r="0.56"/>
<circle cx="254.0" cy="463.3" r="0.56"/>
<circle cx="259.6" cy="470.9" r="0.56"/>
<circle cx="261.4" cy="469.8" r="0.56"/>
<circle cx="262.9" cy="471.4" r="0.56"/>
<circle cx="260.7" cy="471.1" r="0.56"/>
<circle cx="263.2" cy="472.2" r="0.56"/>
<circle cx="262.2" cy="466.1" r="0.56"/>
<circle cx="260.5" cy="471.5" r="0.56"/>
<circle cx="260.3" cy="472.5" r="0.56"/>
<circle cx="261.6" cy="472.0" r="0.56"/>
<circle cx="260.4" cy="476.9" r="0.56"/>
<circle cx="262.6" cy="468.7" r="0.56"/>
<circle cx="260.8" cy="477.1" r="0.56"/>
<circle cx="260.2" cy="471.9" r="0.56"/>
<circle cx="262.2" cy="469.3" r="0.56"/>
<circle cx="258.9" cy="469.9" r="0.56"/>
<circle cx="261.2" cy="472.7" r="0.56"/>
<circle cx="261.9" cy="469.4" r="0.56"/>
<circle cx="262.0" cy="470.9" r="0.56"/>
<circle cx="261.0" cy="469.5" r="0.56"/>
<circle cx="260.3" cy="471.4" r="0.56"/>
<circle cx="259.1" cy="467.4" r="0.56"/>
<circle cx="260.7" cy="464.9" r="0.56"/>
<circle cx="260.0" cy="463.3" r="0.56"/>
<circle cx="259.7" cy="471.0" r="0.56"/>
<circle cx="261.5" cy="469.1" r="0.56"/>
<circle cx="260.4" cy="465.0" r="0.56"/>
<circle cx="263.4" cy="470.8" r="0.56"/>
<circle cx="262.3" cy="466.7" r="0.56"/>
<circle cx="260.4" cy="463.8" r="0.56"/>
<circle cx="261.9" cy="472.1" r="0.56"/>
<circle cx="257.9" cy="469.1" r="0.56"/>
<circle cx="261.6" cy="464.0" r="0.56"/>
<circle cx="258.0" cy="466.1" r="0.56"/>
<circle cx="259.8" cy="465.1" r="0.56"/>
<circle cx="260.7" cy="470.0" r="0.56"/>
<circle cx="261.7" cy="471.4" r="0.56"/>
<circle cx="263.0" cy="472.8" r="0.56"/>
<circle cx="258.7" cy="467.8" r="0.56"/>
<circle cx="259.1" cy="466.1" r="0.56"/>
<circle cx="260.6" cy="469.3" r="0.56"/>
<circle cx="261.4" cy="464.5" r="0.56"/>
<circle cx="258.8" cy="469.2" r="0.56"/>
<circle cx="260.4" cy="468.4" r="0.56"/>
<circle cx="260.6" cy="467.0" r="0.56"/>
<circle cx="261.8" cy="470.4" r="0.56"/>
<circle cx="260.6" cy="467.3" r="0.56"/>
<circle cx="260.4" cy="461.1" r="0.56"/>
<circle cx="259.2" cy="469.4" r="0.56"/>
<circle cx="258.4" cy="469.9" r="0.56"/>
<circle cx="260.9" cy="465.2" r="0.56"/>
<circle cx="260.3" cy="468.4" r="0.56"/>
<circle cx="261.4" cy="471.1" r="0.56"/>
<circle cx="260.6" cy="466.7" r="0.56"/>
<circle cx="260.5" cy="469.1" r="0.56"/>
<circle cx="261.8" cy="470.2" r="0.56"/>
<circle cx="259.6" cy="465.2" r="0.56"/>
<circle cx="260.1" cy="467.1" r="0.56"/>
<circle cx="259.0" cy="469.0" r="0.56"/>
<circle cx="260.0" cy="469.6" r="0.56"/>
<circle cx="261.5" cy="468.1" r="0.56"/>
<circle cx="264.2" cy="468.3" r="0.56"/>
<circle cx="262.4" cy="469.7" r="0.56"/>
<circle cx="262.4" cy="462.2" r="0.56"/>
<circle cx="259.6" cy="470.0" r="0.56"/>
<circle cx="261.6" cy="476.3" r="0.56"/>
<circle cx="261.2" cy="473.1" r="0.56"/>
<circle cx="261.8" cy="472.1" r="0.56"/>
<circle cx="261.5" cy="468.8" r="0.56"/>
<circle cx="261.5" cy="466.1" r="0.56"/>
<circle cx="262.5" cy="466.2" r="0.56"/>
<circle cx="261.1" cy="475.7" r="0.56"/>
<circle cx="260.4" cy="469.4" r="0.56"/>
</g>
<g fill="#000" shape-rendering="geometricPrecision">
<circle cx="711.9" cy="489.6" r="0.54"/>
<circle cx="714.1" cy="488.2" r="0.54"/>
<circle cx="716.2" cy="487.5" r="0.54"/>
<circle cx="718.3" cy="487.5" r="0.54"/>
<circle cx="720.4" cy="486.8" r="0.54"/>
<circle cx="722.5" cy="486.1" r="0.54"/>
<circle cx="723.9" cy="485.4" r="0.54"/>
<circle cx="726.0" cy="484.7" r="0.54"/>
<circle cx="728.1" cy="482.1" r="0.54"/>
<circle cx="724.6" cy="483.3" r="0.54"/>
<circle cx="723.2" cy="484.0" r="0.54"/>
<circle cx="721.8" cy="487.2" r="0.54"/>
<circle cx="725.3" cy="486.1" r="0.54"/>
<circle cx="734.4" cy="479.7" r="0.54"/>
<circle cx="736.5" cy="479.5" r="0.54"/>
<circle cx="739.3" cy="479.0" r="0.54"/>
<circle cx="744.2" cy="478.6" r="0.54"/>
<circle cx="746.3" cy="479.7" r="0.54"/>
<circle cx="751.3" cy="480.2" r="0.54"/>
<circle cx="756.9" cy="480.7" r="0.54"/>
<circle cx="759.7" cy="483.0" r="0.54"/>
<circle cx="763.2" cy="484.7" r="0.54"/>
<circle cx="767.4" cy="486.3" r="0.54"/>
<circle cx="769.5" cy="488.2" r="0.54"/>
<circle cx="770.9" cy="491.0" r="0.54"/>
<circle cx="771.3" cy="493.1" r="0.54"/>
<circle cx="771.3" cy="495.2" r="0.54"/>
<circle cx="723.9" cy="489.6" r="0.54"/>
<circle cx="727.4" cy="489.6" r="0.54"/>
<circle cx="729.5" cy="489.8" r="0.54"/>
<circle cx="733.0" cy="489.8" r="0.54"/>
<circle cx="735.1" cy="489.8" r="0.54"/>
<circle cx="740.7" cy="490.7" r="0.54"/>
<circle cx="743.5" cy="492.4" r="0.54"/>
<circle cx="745.6" cy="494.5" r="0.54"/>
<circle cx="747.0" cy="496.6" r="0.54"/>
<circle cx="747.3" cy="498.7" r="0.54"/>
<circle cx="747.0" cy="500.8" r="0.54"/>
<circle cx="745.9" cy="502.9" r="0.54"/>
<circle cx="744.0" cy="506.0" r="0.54"/>
<circle cx="740.7" cy="506.8" r="0.54"/>
<circle cx="737.2" cy="507.8" r="0.54"/>
<circle cx="730.2" cy="508.2" r="0.54"/>
<circle cx="727.7" cy="508.0" r="0.54"/>
<circle cx="719.7" cy="506.0" r="0.54"/>
<circle cx="711.9" cy="505.0" r="0.54"/>
<circle cx="706.3" cy="502.2" r="0.54"/>
<circle cx="702.8" cy="500.1" r="0.54"/>
<circle cx="698.4" cy="495.0" r="0.54"/>
<circle cx="699.5" cy="496.7" r="0.54"/>
<circle cx="698.8" cy="498.8" r="0.54"/>
<circle cx="695.0" cy="497.0" r="0.54"/>
<circle cx="691.1" cy="498.8" r="0.54"/>
<circle cx="688.3" cy="501.2" r="0.54"/>
<circle cx="686.3" cy="502.6" r="0.54"/>
<circle cx="702.6" cy="496.0" r="0.54"/>
<circle cx="705.7" cy="494.3" r="0.54"/>
<circle cx="703.0" cy="500.5" r="0.54"/>
<circle cx="706.4" cy="502.6" r="0.54"/>
<circle cx="711.7" cy="504.7" r="0.54"/>
<circle cx="701.9" cy="493.6" r="0.54"/>
<circle cx="703.3" cy="492.5" r="0.54"/>
<circle cx="700.5" cy="494.6" r="0.54"/>
<circle cx="697.4" cy="495.3" r="0.54"/>
<circle cx="696.0" cy="496.3" r="0.54"/>
<circle cx="683.8" cy="528.0" r="0.54"/>
<circle cx="685.9" cy="527.3" r="0.54"/>
<circle cx="687.7" cy="526.6" r="0.54"/>
<circle cx="692.5" cy="526.3" r="0.54"/>
<circle cx="696.3" cy="525.4" r="0.54"/>
<circle cx="688.1" cy="515.3" r="0.54"/>
<circle cx="688.2" cy="515.1" r="0.54"/>
<circle cx="688.0" cy="514.7" r="0.54"/>
<circle cx="688.6" cy="514.2" r="0.54"/>
<circle cx="688.4" cy="513.1" r="0.54"/>
<circle cx="689.5" cy="513.1" r="0.54"/>
<circle cx="688.7" cy="512.4" r="0.54"/>
<circle cx="688.9" cy="512.2" r="0.54"/>
<circle cx="689.4" cy="511.8" r="0.54"/>
<circle cx="689.1" cy="511.4" r="0.54"/>
<circle cx="689.8" cy="510.1" r="0.54"/>
<circle cx="690.1" cy="510.1" r="0.54"/>
<circle cx="691.7" cy="509.3" r="0.54"/>
<circle cx="691.0" cy="509.2" r="0.54"/>
<circle cx="692.0" cy="508.9" r="0.54"/>
<circle cx="691.9" cy="507.7" r="0.54"/>
<circle cx="692.1" cy="507.3" r="0.54"/>
<circle cx="692.7" cy="506.8" r="0.54"/>
<circle cx="692.6" cy="506.4" r="0.54"/>
<circle cx="693.1" cy="505.6" r="0.54"/>
<circle cx="692.7" cy="506.5" r="0.54"/>
<circle cx="693.9" cy="505.1" r="0.54"/>
<circle cx="694.5" cy="504.8" r="0.54"/>
<circle cx="693.7" cy="503.9" r="0.54"/>
<circle cx="694.5" cy="503.3" r="0.54"/>
<circle cx="695.2" cy="503.2" r="0.54"/>
<circle cx="695.0" cy="503.6" r="0.54"/>
<circle cx="695.3" cy="502.6" r="0.54"/>
<circle cx="695.1" cy="502.0" r="0.54"/>
<circle cx="697.2" cy="501.6" r="0.54"/>
<circle cx="696.3" cy="501.2" r="0.54"/>
<circle cx="696.7" cy="500.0" r="0.54"/>
<circle cx="696.7" cy="499.3" r="0.54"/>
<circle cx="697.1" cy="499.0" r="0.54"/>
<circle cx="697.2" cy="498.1" r="0.54"/>
<circle cx="698.2" cy="497.8" r="0.54"/>
<circle cx="698.5" cy="496.7" r="0.54"/>
<circle cx="698.5" cy="495.7" r="0.54"/>
<circle cx="699.7" cy="495.9" r="0.54"/>
</g>
<g fill="#000" shape-rendering="geometricPrecision">
<circle cx="678.1" cy="526.4" r="0.62"/>
<circle cx="678.8" cy="526.1" r="0.62"/>
<circle cx="678.5" cy="527.1" r="0.62"/>
<circle cx="678.6" cy="526.4" r="0.62"/>
<circle cx="679.2" cy="526.1" r="0.62"/>
<circle cx="679.4" cy="525.3" r="0.62"/>
<circle cx="679.4" cy="525.7" r="0.62"/>
<circle cx="679.1" cy="526.4" r="0.62"/>
<circle cx="679.5" cy="526.2" r="0.62"/>
<circle cx="679.8" cy="526.1" r="0.62"/>
<circle cx="680.4" cy="525.5" r="0.62"/>
<circle cx="679.4" cy="525.4" r="0.62"/>
<circle cx="681.0" cy="525.6" r="0.62"/>
<circle cx="680.1" cy="525.4" r="0.62"/>
<circle cx="679.2" cy="525.5" r="0.62"/>
<circle cx="680.4" cy="525.3" r="0.62"/>
<circle cx="680.2" cy="524.1" r="0.62"/>
<circle cx="680.2" cy="524.2" r="0.62"/>
<circle cx="680.1" cy="525.8" r="0.62"/>
<circle cx="681.1" cy="524.6" r="0.62"/>
<circle cx="681.3" cy="524.4" r="0.62"/>
<circle cx="680.4" cy="525.4" r="0.62"/>
<circle cx="681.7" cy="525.2" r="0.62"/>
<circle cx="681.9" cy="524.2" r="0.62"/>
<circle cx="681.2" cy="524.0" r="0.62"/>
<circle cx="681.5" cy="524.5" r="0.62"/>
<circle cx="682.3" cy="524.7" r="0.62"/>
<circle cx="681.8" cy="525.4" r="0.62"/>
<circle cx="680.9" cy="523.7" r="0.62"/>
<circle cx="682.4" cy="524.5" r="0.62"/>
<circle cx="682.2" cy="524.7" r="0.62"/>
<circle cx="681.9" cy="523.8" r="0.62"/>
<circle cx="682.0" cy="524.9" r="0.62"/>
<circle cx="681.5" cy="524.6" r="0.62"/>
<circle cx="683.0" cy="523.7" r="0.62"/>
<circle cx="682.6" cy="524.3" r="0.62"/>
<circle cx="683.4" cy="523.1" r="0.62"/>
<circle cx="683.4" cy="523.8" r="0.62"/>
<circle cx="682.6" cy="524.0" r="0.62"/>
<circle cx="682.5" cy="524.2" r="0.62"/>
<circle cx="682.9" cy="524.7" r="0.62"/>
<circle cx="683.3" cy="523.7" r="0.62"/>
<circle cx="683.6" cy="523.5" r="0.62"/>
<circle cx="683.3" cy="523.3" r="0.62"/>
<circle cx="684.1" cy="523.5" r="0.62"/>
<circle cx="685.0" cy="523.6" r="0.62"/>
<circle cx="684.1" cy="523.5" r="0.62"/>
<circle cx="683.5" cy="523.6" r="0.62"/>
<circle cx="684.8" cy="521.9" r="0.62"/>
<circle cx="684.6" cy="523.8" r="0.62"/>
<circle cx="685.2" cy="523.2" r="0.62"/>
<circle cx="684.9" cy="523.4" r="0.62"/>
<circle cx="684.6" cy="522.3" r="0.62"/>
<circle cx="684.9" cy="522.3" r="0.62"/>
<circle cx="685.3" cy="522.7" r="0.62"/>
<circle cx="685.1" cy="522.4" r="0.62"/>
<circle cx="684.4" cy="521.8" r="0.62"/>
<circle cx="684.4" cy="522.1" r="0.62"/>
<circle cx="686.1" cy="522.3" r="0.62"/>
<circle cx="685.9" cy="523.3" r="0.62"/>
<circle cx="685.2" cy="521.7" r="0.62"/>
<circle cx="687.1" cy="521.4" r="0.62"/>
<circle cx="685.1" cy="522.0" r="0.62"/>
<circle cx="687.0" cy="521.6" r="0.62"/>
<circle cx="686.7" cy="522.4" r="0.62"/>
<circle cx="686.4" cy="521.4" r="0.62"/>
<circle cx="686.5" cy="521.8" r="0.62"/>
<circle cx="686.9" cy="522.3" r="0.62"/>
<circle cx="686.9" cy="522.0" r="0.62"/>
<circle cx="686.7" cy="520.7" r="0.62"/>
<circle cx="687.6" cy="521.4" r="0.62"/>
<circle cx="687.5" cy="521.7" r="0.62"/>
<circle cx="687.0" cy="522.3" r="0.62"/>
<circle cx="686.3" cy="521.3" r="0.62"/>
<circle cx="687.2" cy="521.8" r="0.62"/>
<circle cx="687.9" cy="521.0" r="0.62"/>
<circle cx="688.4" cy="521.0" r="0.62"/>
<circle cx="688.0" cy="521.8" r="0.62"/>
<circle cx="687.8" cy="521.0" r="0.62"/>
<circle cx="687.5" cy="520.9" r="0.62"/>
<circle cx="687.6" cy="520.6" r="0.62"/>
<circle cx="688.9" cy="521.1" r="0.62"/>
<circle cx="689.6" cy="520.4" r="0.62"/>
<circle cx="688.2" cy="520.7" r="0.62"/>
<circle cx="689.1" cy="519.5" r="0.62"/>
<circle cx="688.6" cy="520.9" r="0.62"/>
<circle cx="689.2" cy="520.3" r="0.62"/>
<circle cx="689.4" cy="520.4" r="0.62"/>
<circle cx="688.9" cy="519.9" r="0.62"/>
<circle cx="689.1" cy="520.1" r="0.62"/>
<circle cx="689.9" cy="520.6" r="0.62"/>
<circle cx="689.7" cy="520.7" r="0.62"/>
<circle cx="689.2" cy="520.4" r="0.62"/>
<circle cx="689.9" cy="520.3" r="0.62"/>
<circle cx="689.4" cy="519.3" r="0.62"/>
<circle cx="689.2" cy="519.1" r="0.62"/>
<circle cx="690.0" cy="518.7" r="0.62"/>
<circle cx="690.1" cy="520.1" r="0.62"/>
<circle cx="690.8" cy="521.5" r="0.62"/>
<circle cx="690.8" cy="519.8" r="0.62"/>
<circle cx="690.6" cy="519.7" r="0.62"/>
<circle cx="689.9" cy="519.8" r="0.62"/>
<circle cx="691.3" cy="518.9" r="0.62"/>
<circle cx="692.2" cy="519.1" r="0.62"/>
<circle cx="692.5" cy="518.3" r="0.62"/>
<circle cx="692.4" cy="517.7" r="0.62"/>
<circle cx="692.6" cy="518.4" r="0.62"/>
<circle cx="693.2" cy="518.3" r="0.62"/>
<circle cx="692.6" cy="518.0" r="0.62"/>
<circle cx="693.2" cy="518.9" r="0.62"/>
<circle cx="693.4" cy="517.9" r="0.62"/>
<circle cx="693.8" cy="517.8" r="0.62"/>
<circle cx="693.3" cy="518.3" r="0.62"/>
<circle cx="693.1" cy="518.1" r="0.62"/>
<circle cx="693.5" cy="517.0" r="0.62"/>
<circle cx="693.2" cy="517.9" r="0.62"/>
<circle cx="694.2" cy="517.9" r="0.62"/>
<circle cx="695.2" cy="517.7" r="0.62"/>
<circle cx="694.2" cy="516.7" r="0.62"/>
<circle cx="694.1" cy="517.8" r="0.62"/>
<circle cx="695.6" cy="517.3" r="0.62"/>
<circle cx="695.6" cy="517.0" r="0.62"/>
<circle cx="695.3" cy="516.9" r="0.62"/>
<circle cx="695.8" cy="516.8" r="0.62"/>
<circle cx="695.5" cy="516.7" r="0.62"/>
<circle cx="696.0" cy="517.3" r="0.62"/>
<circle cx="696.2" cy="517.1" r="0.62"/>
<circle cx="695.7" cy="516.8" r="0.62"/>
<circle cx="695.9" cy="516.6" r="0.62"/>
<circle cx="695.7" cy="516.7" r="0.62"/>
<circle cx="697.0" cy="516.9" r="0.62"/>
<circle cx="696.7" cy="515.6" r="0.62"/>
<circle cx="696.1" cy="516.3" r="0.62"/>
<circle cx="696.8" cy="516.8" r="0.62"/>
<circle cx="696.9" cy="516.9" r="0.62"/>
<circle cx="697.7" cy="516.4" r="0.62"/>
<circle cx="698.0" cy="516.5" r="0.62"/>
<circle cx="697.1" cy="516.0" r="0.62"/>
<circle cx="697.1" cy="516.1" r="0.62"/>
<circle cx="698.1" cy="516.4" r="0.62"/>
<circle cx="698.3" cy="516.9" r="0.62"/>
<circle cx="699.3" cy="516.8" r="0.62"/>
<circle cx="697.8" cy="516.3" r="0.62"/>
<circle cx="698.4" cy="517.0" r="0.62"/>
<circle cx="698.6" cy="517.0" r="0.62"/>
<circle cx="699.2" cy="516.3" r="0.62"/>
<circle cx="699.4" cy="516.9" r="0.62"/>
<circle cx="699.8" cy="515.8" r="0.62"/>
<circle cx="700.4" cy="516.1" r="0.62"/>
<circle cx="699.9" cy="515.9" r="0.62"/>
<circle cx="700.1" cy="516.0" r="0.62"/>
<circle cx="700.6" cy="515.8" r="0.62"/>
<circle cx="700.9" cy="515.9" r="0.62"/>
<circle cx="700.7" cy="516.4" r="0.62"/>
<circle cx="700.5" cy="516.1" r="0.62"/>
<circle cx="700.9" cy="516.2" r="0.62"/>
<circle cx="700.4" cy="515.9" r="0.62"/>
<circle cx="679.0" cy="526.2" r="0.62"/>
<circle cx="680.0" cy="525.6" r="0.62"/>
<circle cx="682.0" cy="526.6" r="0.62"/>
<circle cx="679.7" cy="526.0" r="0.62"/>
<circle cx="681.2" cy="527.7" r="0.62"/>
<circle cx="680.1" cy="525.5" r="0.62"/>
<circle cx="679.3" cy="527.1" r="0.62"/>
<circle cx="679.3" cy="525.7" r="0.62"/>
<circle cx="678.7" cy="526.0" r="0.62"/>
<circle cx="679.8" cy="526.1" r="0.62"/>
<circle cx="679.8" cy="528.8" r="0.62"/>
<circle cx="681.4" cy="525.8" r="0.62"/>
<circle cx="680.1" cy="526.7" r="0.62"/>
<circle cx="679.7" cy="527.4" r="0.62"/>
<circle cx="679.5" cy="526.3" r="0.62"/>
<circle cx="679.5" cy="526.5" r="0.62"/>
<circle cx="681.0" cy="527.2" r="0.62"/>
<circle cx="678.6" cy="526.2" r="0.62"/>
<circle cx="679.1" cy="527.3" r="0.62"/>
<circle cx="680.0" cy="527.3" r="0.62"/>
<circle cx="679.7" cy="525.1" r="0.62"/>
<circle cx="680.2" cy="526.8" r="0.62"/>
</g>
</svg>
</body></html>
